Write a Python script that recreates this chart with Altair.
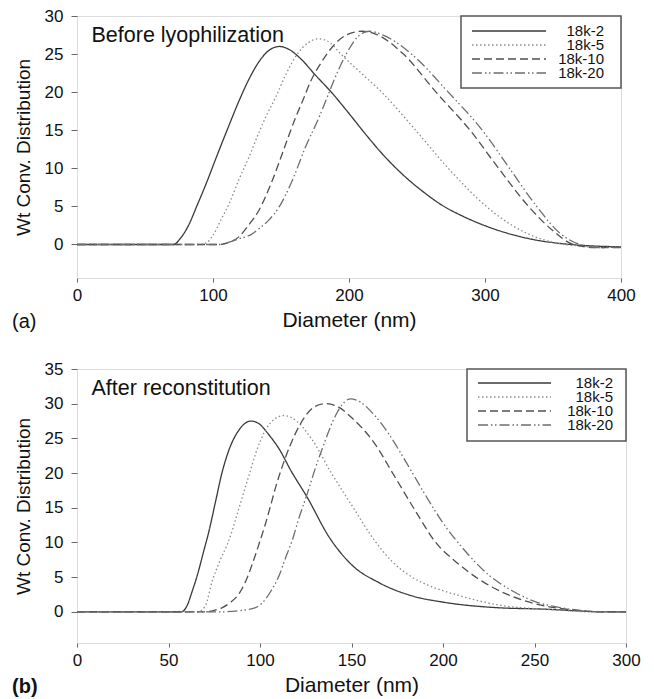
import altair as alt
import pandas as pd

SERIES = ["18k-2", "18k-5", "18k-10", "18k-20"]
COLORS = ["#3a3a3a", "#8c8c8c", "#505050", "#6e6e6e"]
DASHES = [[1, 0], [1.5, 2.5], [8, 4], [10, 3, 1.5, 2.5, 1.5, 3]]

# Panel (a): Before lyophilization
a_x_2 = [0, 66, 71, 76, 82, 88, 95, 103, 111, 119, 127, 135, 142, 149, 156, 165, 175, 187, 200, 213, 226, 240, 254, 268, 285, 301, 320, 340, 360, 380, 400]
a_y_2 = [0, 0, 0, 0.8, 2.5, 5, 8, 11.7, 15.3, 18.8, 21.9, 24.3, 25.6, 26, 25.6, 24.3, 22.3, 20, 17.2, 14.3, 11.6, 9.1, 7, 5.2, 3.6, 2.4, 1.3, 0.5, 0.05, -0.2, -0.3]
a_x_5 = [0, 90, 95, 100, 106, 112, 119, 126.5, 134, 140, 146, 153.5, 162, 170, 178, 186, 194, 209, 224, 249, 273, 301, 320, 340, 355, 370, 385, 400]
a_y_5 = [0, 0, 0.2, 1.2, 3.3, 5.4, 8.5, 11.5, 14.8, 17.2, 19.3, 22.3, 25, 26.5, 27, 26.5, 25, 22.5, 20, 15, 10, 5, 2.5, 0.8, 0.1, -0.2, -0.4, -0.3]
a_x_10 = [0, 105, 112, 119, 126, 133.8, 143.6, 153.5, 160.8, 166, 172, 180, 188, 198, 210, 220, 240, 264, 289, 310, 332, 350, 365, 380, 400]
a_y_10 = [0, 0, 0.3, 1, 2.5, 4.5, 8.4, 13.2, 16.7, 18.9, 21.5, 24, 26, 27.5, 28, 27.6, 25, 20, 15, 10, 5, 1.8, 0, -0.4, -0.4]
a_x_20 = [0, 105, 112, 120, 128, 134, 141, 148.5, 158.3, 168, 178, 183, 190, 198, 206, 215, 225, 246, 273, 298, 318, 338, 355, 370, 385, 400]
a_y_20 = [0, 0, 0.3, 0.8, 1.3, 2.1, 3.2, 4.9, 8.4, 12.8, 16.7, 18.9, 22, 25, 27.2, 28, 27.5, 25, 20, 15, 10, 5, 1.5, 0, -0.4, -0.3]

# Panel (b): After reconstitution
b_x_2 = [0, 55, 57, 60, 63, 66, 69, 72, 75.8, 79, 83, 88.5, 95, 100, 104, 110.4, 117, 125.8, 137.7, 150.4, 165, 183, 201, 229, 253, 290, 300]
b_y_2 = [0, 0, 0, 0.8, 3, 5.5, 8.5, 11.5, 16, 19.8, 23.3, 26.2, 27.5, 27, 25.8, 23.5, 20.3, 16.5, 10.8, 6.7, 4.2, 2.3, 1.35, 0.6, 0.4, 0, 0]
b_x_5 = [0, 62, 66, 70, 74, 78, 83, 87, 90.3, 94, 97.6, 103, 108, 113, 120, 128, 139, 151, 162, 172, 183, 195, 208, 230, 260, 280, 300]
b_y_5 = [0, 0, 0, 0.8, 4.5, 7.3, 10.3, 13.6, 16.5, 19.7, 22.8, 26.2, 27.8, 28.3, 27.5, 25, 20, 15, 10.5, 7.3, 5, 3.5, 2.4, 1, 0.3, 0, 0]
b_x_10 = [0, 38, 70, 75, 79.4, 84, 88.5, 92, 95.8, 99.5, 103, 106, 108.6, 114, 119, 125, 130, 136, 143, 150, 162, 173.6, 185, 196, 208, 219, 237, 253, 270, 285, 300]
b_y_10 = [0, 0, 0, 0.2, 0.6, 1.4, 2.6, 4.3, 6.9, 9.8, 12.7, 15.5, 18, 22.3, 25.5, 28.3, 29.6, 30, 29.5, 28, 24.5, 19.5, 14.5, 10, 7, 4.8, 2.3, 1, 0.3, 0, 0]
b_x_20 = [0, 38, 80, 90, 97.6, 102, 106, 110.4, 114, 117.6, 121.5, 125.8, 130, 134, 141.3, 145, 149.5, 155, 162, 170, 180, 190, 200, 212, 225, 238, 250, 262, 275, 285, 300]
b_y_20 = [0, 0, 0, 0.2, 0.6, 1.5, 3, 5.2, 7.8, 10.3, 13.7, 17, 20.5, 23.5, 28.3, 29.9, 30.7, 30.2, 28.5, 25.8, 21.5, 17, 12.8, 8.8, 5.3, 3, 1.5, 0.7, 0.2, 0, 0]

FONT = "Liberation Sans"


def long_df(xs, ys):
    rows = []
    for name, x, y in zip(SERIES, xs, ys):
        for i, (xi, yi) in enumerate(zip(x, y)):
            rows.append({"series": name, "d": xi, "w": yi, "i": i})
    return pd.DataFrame(rows)


def panel(df, xmax, xstep, ymin, ymax, ystep, w, h, label, tag, tag_bold, leg):
    # leg = (box_left, box_right, box_top, box_bottom, sym_left, sym_right, label_right, row_first, row_last)
    bl, br, bt, bb, sl, sr, lr, r0, r1 = leg
    xaxis = alt.Axis(values=list(range(0, xmax + 1, xstep)), grid=False, domain=False,
                     tickSize=4, tickColor="#666", labelPadding=5, labelFontSize=17,
                     labelFont=FONT, labelColor="#111", title="Diameter (nm)",
                     titleFont=FONT, titleFontSize=21, titleFontWeight="normal",
                     titleColor="#111", titlePadding=6, labelFlush=False)
    yaxis = alt.Axis(values=list(range(0, ymax + 1, ystep)), grid=False, domain=False,
                     tickSize=6, tickColor="#666", labelPadding=8, labelFontSize=17,
                     labelFont=FONT, labelColor="#111", title="Wt Conv. Distribution",
                     titleFont=FONT, titleFontSize=19, titleFontWeight="normal",
                     titleColor="#111", titlePadding=11, labelFlush=False)
    color = alt.Color("series:N", sort=SERIES, scale=alt.Scale(domain=SERIES, range=COLORS), legend=None)
    dash = alt.StrokeDash("series:N", sort=SERIES, scale=alt.Scale(domain=SERIES, range=DASHES), legend=None)
    lines = alt.Chart(df).mark_line(strokeWidth=1.3, interpolate="monotone").encode(
        x=alt.X("d:Q", scale=alt.Scale(domain=[0, xmax], nice=False), axis=xaxis),
        y=alt.Y("w:Q", scale=alt.Scale(domain=[ymin, ymax], nice=False), axis=yaxis),
        color=color, strokeDash=dash, order="i:Q",
    )
    leg_df = pd.DataFrame({"series": SERIES})
    rowy = alt.Y("series:N", sort=SERIES, axis=None,
                 scale=alt.Scale(type="point", domain=SERIES, range=[r0, r1], padding=0))
    box = alt.Chart(pd.DataFrame({"k": [0]})).mark_rect(
        fill="white", stroke="#555", strokeWidth=1.5
    ).encode(x=alt.value(bl), x2=alt.value(br), y=alt.value(bt), y2=alt.value(bb))
    syms = alt.Chart(leg_df).mark_rule(strokeWidth=1.3).encode(
        x=alt.value(sl), x2=alt.value(sr), y=rowy, color=color, strokeDash=dash)
    labs = alt.Chart(leg_df).mark_text(
        align="right", baseline="middle", font=FONT, fontSize=15, color="#111"
    ).encode(x=alt.value(lr), y=rowy, text="series:N")
    legend = alt.layer(box, syms, labs)
    title_txt = alt.Chart(pd.DataFrame({"t": [label]})).mark_text(
        align="left", baseline="alphabetic", font=FONT, fontSize=21.5, color="#111"
    ).encode(x=alt.value(14.5), y=alt.value(26), text="t:N")
    tag_txt = alt.Chart(pd.DataFrame({"t": [tag]})).mark_text(
        align="left", baseline="middle", font=FONT, fontSize=20, color="#111",
        fontWeight="bold" if tag_bold else "normal"
    ).encode(x=alt.value(-65), y=alt.value(h + 44), text="t:N")
    return alt.layer(lines, legend, title_txt, tag_txt).resolve_scale(
        y="independent").properties(width=w, height=h)


df_a = long_df([a_x_2, a_x_5, a_x_10, a_x_20], [a_y_2, a_y_5, a_y_10, a_y_20])
df_b = long_df([b_x_2, b_x_5, b_x_10, b_x_20], [b_y_2, b_y_5, b_y_10, b_y_20])

pa = panel(df_a, 400, 100, -4.4, 30, 5, 544, 262, "Before lyophilization", "(a)", False,
           (384, 544, 0, 72, 395, 469, 527, 15, 57))
pb = panel(df_b, 300, 50, -4.5, 35, 5, 549, 274, "After reconstitution", "(b)", True,
           (390, 549, 0, 72, 401, 474, 536, 14, 56))

chart = alt.vconcat(pa, pb, spacing=91, bounds="flush").properties(
    padding={"top": -2, "left": 3, "right": 0, "bottom": 0}
).configure_view(stroke="#666", strokeWidth=1.5).configure(background="white")

chart.save("out.html", embed_options={"renderer": "svg", "actions": False})
